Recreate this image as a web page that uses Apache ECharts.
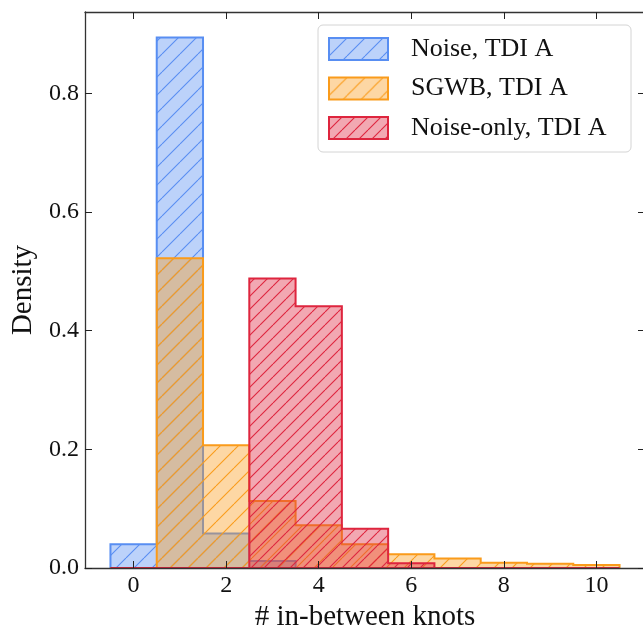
<!DOCTYPE html>
<html>
<head>
<meta charset="utf-8">
<script src="https://cdn.jsdelivr.net/npm/echarts@6/dist/echarts.min.js"></script>
<style>
  html, body { margin: 0; padding: 0; background: #fff; }
  #chart { width: 643px; height: 631px; }
</style>
</head>
<body>
<div id="chart"></div>
<script>
// bin centres (# in-between knots), bin width 1
const knots = [0, 1, 2, 3, 4, 5, 6, 7, 8, 9, 10]
// density per bin
const noiseA = [0.040, 0.894, 0.058, 0.012, 0, 0, 0, 0, 0, 0, 0]
const sgwbA = [0, 0.522, 0.207, 0.113, 0.072, 0.040, 0.023, 0.016, 0.009, 0.007, 0.005]
const noiseOnlyA = [0, 0, 0, 0.488, 0.441, 0.066, 0.008, 0, 0, 0, 0]

const seriesNames = ['Noise, TDI A', 'SGWB, TDI A', 'Noise-only, TDI A']
const seriesColors = ['#588ef2', '#fa9b1b', '#de253e']
const hatchGap = [18, 18, 13]
const xTicks = [0, 2, 4, 6, 8, 10]
const yTicks = [0, 0.2, 0.4, 0.6, 0.8]

const FONT = '"Liberation Serif", "DejaVu Serif", serif'

// hatch lines over a 0.4 alpha face, as one repeating tile
const makeHatch = (hex, d) => {
  const c = document.createElement('canvas')
  c.width = d
  c.height = d
  const ctx = c.getContext('2d')
  const r = parseInt(hex.slice(1, 3), 16)
  const g = parseInt(hex.slice(3, 5), 16)
  const b = parseInt(hex.slice(5, 7), 16)
  ctx.fillStyle = `rgba(${r},${g},${b},0.4)`
  ctx.fillRect(0, 0, d, d)
  ctx.strokeStyle = hex
  ctx.lineWidth = 1.1
  for (let k = -1; k <= 1; k++) {
    ctx.beginPath()
    ctx.moveTo(k * d, d)
    ctx.lineTo(k * d + d, 0)
    ctx.stroke()
  }
  return { image: c, repeat: 'repeat' }
}

const hatches = seriesColors.map((c, i) => makeHatch(c, hatchGap[i]))

// step-filled histogram outline, drawn once per series
const stepSeries = (name, values, idx) => ({
  name: name,
  type: 'custom',
  clip: true,
  z: 2 + idx,
  data: knots.map((k, i) => [k, values[i]]),
  encode: { x: 0, y: 1 },
  renderItem: (params, api) => {
    if (params.dataIndex !== 0) return null
    const pts = []
    pts.push(api.coord([knots[0] - 0.5, 0]))
    knots.forEach((k, i) => {
      pts.push(api.coord([k - 0.5, values[i]]))
      pts.push(api.coord([k + 0.5, values[i]]))
    })
    pts.push(api.coord([knots[knots.length - 1] + 0.5, 0]))
    return {
      type: 'polygon',
      shape: { points: pts },
      style: {
        fill: hatches[idx],
        stroke: seriesColors[idx],
        lineWidth: 2,
        lineJoin: 'miter'
      }
    }
  },
  itemStyle: { color: seriesColors[idx] }
})

const chart = echarts.init(document.getElementById('chart'), null, { renderer: 'canvas' })

const axisLine = { show: true, onZero: false, lineStyle: { color: '#333', width: 1.3 } }
const tickIn = { show: true, inside: true, length: 7, lineStyle: { color: '#222', width: 1 } }

const option = {
  animation: false,
  backgroundColor: '#fff',
  grid: { left: 85, right: -2, top: 12, bottom: 63, outerBoundsMode: 'none', containLabel: false },
  legend: {
    left: 318,
    top: 25,
    orient: 'vertical',
    padding: [11, 14, 11, 10],
    itemGap: 13.5,
    itemWidth: 59,
    itemHeight: 22,
    backgroundColor: 'rgba(255,255,255,0.8)',
    borderColor: '#d4d4d4',
    borderWidth: 1,
    borderRadius: 5,
    textStyle: {
      fontFamily: FONT,
      fontSize: 26,
      color: '#111',
      padding: [0, 0, 0, 18],
      lineHeight: 22,
      width: 206
    },
    data: seriesNames.map((n, i) => ({
      name: n,
      icon: 'rect',
      itemStyle: { color: hatches[i], borderColor: seriesColors[i], borderWidth: 2 }
    }))
  },
  xAxis: [
    {
      type: 'value',
      min: -1.05,
      max: 11.05,
      z: 10,
      name: '# in-between knots',
      nameLocation: 'middle',
      nameGap: 33,
      nameTextStyle: { fontFamily: FONT, fontSize: 29, color: '#111' },
      axisLine: axisLine,
      axisTick: Object.assign({ customValues: xTicks }, tickIn),
      axisLabel: { customValues: xTicks, fontFamily: FONT, fontSize: 24, color: '#111', margin: 6 },
      splitLine: { show: false }
    },
    {
      type: 'value',
      position: 'top',
      min: -1.05,
      max: 11.05,
      z: 10,
      axisLine: axisLine,
      axisTick: Object.assign({ customValues: xTicks }, tickIn),
      axisLabel: { show: false },
      splitLine: { show: false }
    }
  ],
  yAxis: [
    {
      type: 'value',
      min: 0,
      max: 0.937,
      z: 10,
      name: 'Density',
      nameLocation: 'middle',
      nameGap: 46,
      nameTextStyle: { fontFamily: FONT, fontSize: 29, color: '#111' },
      axisLine: axisLine,
      axisTick: Object.assign({ customValues: yTicks }, tickIn),
      axisLabel: {
        customValues: yTicks,
        fontFamily: FONT,
        fontSize: 24,
        color: '#111',
        margin: 6,
        formatter: v => v.toFixed(1)
      },
      splitLine: { show: false }
    },
    {
      type: 'value',
      position: 'right',
      min: 0,
      max: 0.937,
      z: 10,
      axisLine: axisLine,
      axisTick: Object.assign({ customValues: yTicks }, tickIn),
      axisLabel: { show: false },
      splitLine: { show: false }
    }
  ],
  series: [
    stepSeries(seriesNames[0], noiseA, 0),
    stepSeries(seriesNames[1], sgwbA, 1),
    stepSeries(seriesNames[2], noiseOnlyA, 2)
  ]
}

chart.setOption(option)
</script>
</body>
</html>
